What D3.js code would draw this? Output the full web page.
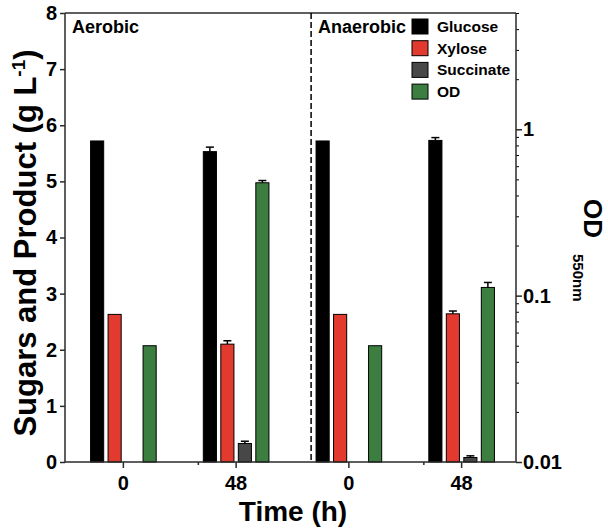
<!DOCTYPE html>
<html>
<head>
<meta charset="utf-8">
<script src="https://cdn.jsdelivr.net/npm/d3@7"></script>
<style>
  body { margin: 0; background: #fff; }
  svg text { font-family: "Liberation Sans", Arial, sans-serif; font-weight: bold; fill: #000; }
</style>
</head>
<body>
<svg id="chart" width="608" height="531"></svg>
<script>
// datos
var groups = ['Aerobic 0', 'Aerobic 48', 'Anaerobic 0', 'Anaerobic 48'];
var tickLabels = ['0', '48', '0', '48'];
var series = ['Glucose', 'Xylose', 'Succinate', 'OD'];
var colors = ['#000000', '#e23a2e', '#474747', '#3c7e40'];

var glucose = [5.72, 5.53, 5.72, 5.73];
var glucoseErr = [0, 0.08, 0, 0.05];
var xylose = [2.63, 2.10, 2.63, 2.64];
var xyloseErr = [0, 0.06, 0, 0.05];
var succinate = [null, 0.33, null, 0.08];
var succinateErr = [0, 0.04, 0, 0.03];
var od = [0.05, 0.477, 0.05, 0.112];
var odErr = [0, 0.015, 0, 0.008];

var leftTicks = [0, 1, 2, 3, 4, 5, 6, 7, 8];
var rightTicks = [0.01, 0.1, 1];

var margin = {top: 13, right: 92, bottom: 69, left: 65},
    width = 608 - margin.left - margin.right,
    height = 531 - margin.top - margin.bottom;

var svg = d3.select('#chart');
var g = svg.append('g').attr('transform', `translate(${margin.left},${margin.top})`);

var x0 = d3.scaleBand().domain(groups).range([2, width + 2]);
var x1 = d3.scaleBand().domain(series).range([-35, 35]).paddingInner(0.25).paddingOuter(0.125);
var y = d3.scaleLinear().domain([0, 8]).range([height, 0]);
var yOD = d3.scaleLog().domain([0.01, 5]).range([height, 0]);

var center = (d) => x0(d) + x0.bandwidth() / 2;
var sepX = (d) => x0(d) + x0.bandwidth() * 0.165;

// una fila por barra
var rows = [];
groups.forEach((grp, i) => {
    rows.push({grp: grp, s: 'Glucose', v: glucose[i], e: glucoseErr[i], sc: y});
    rows.push({grp: grp, s: 'Xylose', v: xylose[i], e: xyloseErr[i], sc: y});
    if (succinate[i] != null)
        rows.push({grp: grp, s: 'Succinate', v: succinate[i], e: succinateErr[i], sc: y});
    rows.push({grp: grp, s: 'OD', v: od[i], e: odErr[i], sc: yOD});
});

var color = d3.scaleOrdinal().domain(series).range(colors);

// barras
g.selectAll('rect.bar')
  .data(rows)
  .enter()
  .append('rect')
  .attr('class', 'bar')
  .attr('x', d => center(d.grp) + x1(d.s))
  .attr('width', x1.bandwidth())
  .attr('y', d => d.sc(d.v))
  .attr('height', d => height - d.sc(d.v))
  .attr('fill', d => color(d.s))
  .attr('stroke', '#000')
  .attr('stroke-width', 1);

// barras de error (solo hacia arriba)
var errs = rows.filter(d => d.e > 0);
g.selectAll('line.err')
  .data(errs)
  .enter()
  .append('line')
  .attr('x1', d => center(d.grp) + x1(d.s) + x1.bandwidth() / 2)
  .attr('x2', d => center(d.grp) + x1(d.s) + x1.bandwidth() / 2)
  .attr('y1', d => d.sc(d.v))
  .attr('y2', d => d.sc(d.v + d.e))
  .attr('stroke', '#000').attr('stroke-width', 1.5);
g.selectAll('line.cap')
  .data(errs)
  .enter()
  .append('line')
  .attr('x1', d => center(d.grp) + x1(d.s) + x1.bandwidth() / 2 - 4)
  .attr('x2', d => center(d.grp) + x1(d.s) + x1.bandwidth() / 2 + 4)
  .attr('y1', d => d.sc(d.v + d.e))
  .attr('y2', d => d.sc(d.v + d.e))
  .attr('stroke', '#000').attr('stroke-width', 1.5);

// ejes
var axisColor = '#2a2a2a';
var yAxis = g.append('g')
  .call(d3.axisLeft(y).tickValues(leftTicks).tickSize(5).tickPadding(3).tickFormat(d3.format('d')));

var odFmt = (d) => rightTicks.includes(d) ? String(d) : '';
var odMinor = [];
[0.01, 0.1, 1].forEach(dec => {
    for (var k = 2; k <= 9; k++) if (dec * k <= 5) odMinor.push(+(dec * k).toPrecision(2));
});
g.append('g')
  .attr('transform', `translate(${width},0)`)
  .call(d3.axisRight(yOD).tickValues(odMinor).tickSize(3).tickFormat(''))
  .call(a => a.select('.domain').remove());
var yAxisR = g.append('g')
  .attr('transform', `translate(${width},0)`)
  .call(d3.axisRight(yOD).tickValues(rightTicks).tickSize(6).tickPadding(1).tickFormat(odFmt));

var xAxis = g.append('g')
  .attr('transform', `translate(0,${height})`)
  .call(d3.axisBottom(x0).tickSize(6).tickPadding(8).tickFormat((d, i) => tickLabels[i]));

// marcas pequeñas entre grupos
g.selectAll('line.sep')
  .data([groups[1], groups[3]])
  .enter()
  .append('line')
  .attr('x1', sepX).attr('x2', sepX)
  .attr('y1', height).attr('y2', height + 3)
  .attr('stroke', axisColor).attr('stroke-width', 1.5);

// caja superior
g.append('line')
  .attr('x1', 0).attr('x2', width)
  .attr('y1', 0).attr('y2', 0)
  .attr('stroke', axisColor).attr('stroke-width', 1.5);

[yAxis, yAxisR, xAxis].forEach(a => {
    a.selectAll('path, line').attr('stroke', axisColor).attr('stroke-width', 1.5);
    a.selectAll('text').style('font-size', '20px').attr('fill', '#000');
    a.select('.domain').attr('d', a === xAxis ? `M0,0H${width}` : `M0,0V${height}`);
});

// linea discontinua aerobico / anaerobico
g.append('line')
  .attr('x1', sepX(groups[2])).attr('x2', sepX(groups[2]))
  .attr('y1', 0).attr('y2', height)
  .attr('stroke', '#000').attr('stroke-width', 1.5)
  .attr('stroke-dasharray', '6,3');

g.append('text').attr('x', 7).attr('y', 20).style('font-size', '18px').text('Aerobic');
g.append('text').attr('x', sepX(groups[2]) + 7).attr('y', 20).style('font-size', '18px').text('Anaerobic');

// leyenda
var legend = g.append('g').attr('transform', 'translate(347,6)');
var li = legend.selectAll('g')
  .data(series)
  .enter()
  .append('g')
  .attr('transform', (d, i) => `translate(0,${i * 21.7})`);
li.append('rect')
  .attr('width', 16).attr('height', 15)
  .attr('fill', d => color(d))
  .attr('stroke', '#000').attr('stroke-width', 1);
li.append('text')
  .attr('x', 25).attr('y', 13)
  .style('font-size', '15.5px')
  .text(d => d);

// titulos de ejes
var yTitle = svg.append('text')
  .attr('transform', 'translate(36,243) rotate(-90)')
  .attr('text-anchor', 'middle')
  .style('font-size', '31px');
yTitle.append('tspan').text('Sugars and Product (g L');
yTitle.append('tspan').attr('dy', -11).style('font-size', '19px').text('-1');
yTitle.append('tspan').attr('dy', 11).text(')');

svg.append('text')
  .attr('x', 293).attr('y', 521)
  .attr('text-anchor', 'middle')
  .style('font-size', '28px')
  .text('Time (h)');

svg.append('text')
  .attr('transform', 'translate(584,199) rotate(90)')
  .style('font-size', '26px')
  .text('OD');
svg.append('text')
  .attr('transform', 'translate(573,254) rotate(90)')
  .style('font-size', '15px')
  .text('550nm');
</script>
</body>
</html>
